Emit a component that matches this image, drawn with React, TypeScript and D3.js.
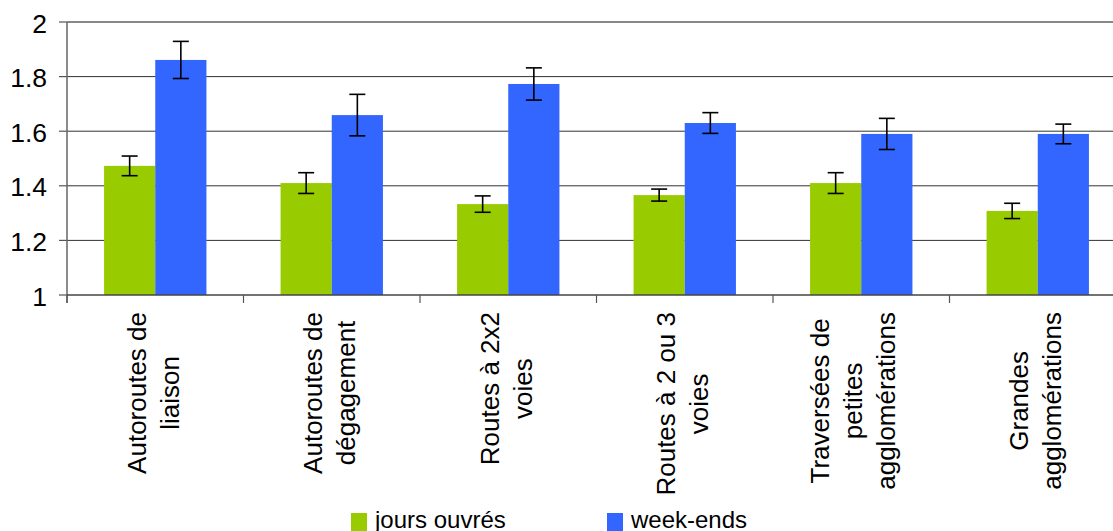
import * as d3 from 'd3'

const CATEGORIES = [
  ['Autoroutes de', 'liaison'],
  ['Autoroutes de', 'dégagement'],
  ['Routes à 2x2', 'voies'],
  ['Routes à 2 ou 3', 'voies'],
  ['Traversées de', 'petites', 'agglomérations'],
  ['Grandes', 'agglomérations'],
]

const SERIES = ['jours ouvrés', 'week-ends']
const JOURS_OUVRES = [1.473, 1.41, 1.333, 1.366, 1.41, 1.308]
const JOURS_OUVRES_ERR = [0.036, 0.038, 0.03, 0.022, 0.038, 0.028]
const WEEK_ENDS = [1.861, 1.659, 1.773, 1.63, 1.59, 1.59]
const WEEK_ENDS_ERR = [0.068, 0.076, 0.059, 0.038, 0.057, 0.036]
const Y_TICKS = [1, 1.2, 1.4, 1.6, 1.8, 2]

const COLORS = ['#99cc00', '#3366ff']
const WIDTH = 1113
const HEIGHT = 531
const PLOT = { left: 67, top: 22, bottom: 295, right: 1126 }
const FONT = '"Liberation Sans", Arial, sans-serif'
const LABEL_SIZE = 26

let measureCtx: CanvasRenderingContext2D | null = null
function textWidth(s: string) {
  if (!measureCtx) measureCtx = document.createElement('canvas').getContext('2d')
  if (!measureCtx) return s.length * LABEL_SIZE * 0.5
  measureCtx.font = `${LABEL_SIZE}px ${FONT}`
  return measureCtx.measureText(s).width
}

export default function App() {
  const idx = CATEGORIES.map((_, i) => String(i))
  const x = d3
    .scaleBand()
    .domain(idx)
    .range([PLOT.left, PLOT.right])
    .paddingInner(0.42)
    .paddingOuter(0.21)
  const step = x.step()
  const xs = d3.scaleBand().domain(SERIES).range([0, x.bandwidth()])
  const y = d3.scaleLinear().domain([1, 2]).range([PLOT.bottom, PLOT.top])

  const values = [JOURS_OUVRES, WEEK_ENDS]
  const errors = [JOURS_OUVRES_ERR, WEEK_ENDS_ERR]

  const bands = idx.map((_, i) => PLOT.left + i * step)

  return (
    <div style={{ position: 'fixed', left: 0, top: 0 }}>
      <svg width={WIDTH} height={HEIGHT} style={{ display: 'block', background: '#fff' }} fontFamily={FONT}>
        {/* gridlines */}
        {Y_TICKS.filter((t) => t > 1).map((t) => (
          <line
            key={t}
            x1={PLOT.left}
            x2={PLOT.right}
            y1={y(t)}
            y2={y(t)}
            stroke={t === 2 ? '#888' : '#333'}
            strokeWidth={t === 2 ? 2 : 1}
          />
        ))}
        {/* y ticks */}
        {Y_TICKS.map((t) => (
          <g key={t}>
            <line x1={PLOT.left - 8} x2={PLOT.left} y1={y(t)} y2={y(t)} stroke="#555" strokeWidth={1.2} />
            <text x={47} y={y(t)} dy="0.4em" textAnchor="end" fontSize={26.5} fill="#000">
              {d3.format('')(t)}
            </text>
          </g>
        ))}
        {/* bars */}
        {SERIES.map((s, si) =>
          values[si].map((v, i) => {
            const bx = (x(String(i)) ?? 0) + (xs(s) ?? 0)
            return (
              <rect
                key={s + i}
                x={bx}
                y={y(v)}
                width={xs.bandwidth()}
                height={y(1) - y(v)}
                fill={COLORS[si]}
              />
            )
          })
        )}
        {/* error bars */}
        {SERIES.map((s, si) =>
          values[si].map((v, i) => {
            const cx = (x(String(i)) ?? 0) + (xs(s) ?? 0) + xs.bandwidth() / 2
            const e = errors[si][i]
            return (
              <g key={'e' + s + i} stroke="#000" strokeWidth={1.6}>
                <line x1={cx} x2={cx} y1={y(v + e)} y2={y(v - e)} />
                <line x1={cx - 8} x2={cx + 8} y1={y(v + e)} y2={y(v + e)} />
                <line x1={cx - 8} x2={cx + 8} y1={y(v - e)} y2={y(v - e)} />
              </g>
            )
          })
        )}
        {/* axes */}
        <line x1={PLOT.left} x2={PLOT.left} y1={PLOT.top} y2={PLOT.bottom + 8} stroke="#666" strokeWidth={1.5} />
        <line x1={PLOT.left} x2={PLOT.right} y1={PLOT.bottom} y2={PLOT.bottom} stroke="#444" strokeWidth={1.5} />
        {bands.map((bx, i) => (
          <line key={'t' + i} x1={bx} x2={bx} y1={PLOT.bottom} y2={PLOT.bottom + 8} stroke="#555" strokeWidth={1.2} />
        ))}
        {/* category labels */}
        {CATEGORIES.map((lines, i) => {
          const center = bands[i] + step / 2
          const maxW = d3.max(lines, (l) => textWidth(l)) ?? 0
          const cy = 312 + maxW / 2
          const n = lines.length
          return lines.map((l, j) => {
            const bx = center + (j - (n - 1) / 2) * 33 + (n === 2 ? 7 : 1)
            return (
              <text
                key={'c' + i + j}
                transform={`translate(${bx},${cy}) rotate(-90)`}
                textAnchor="middle"
                fontSize={LABEL_SIZE}
                fill="#000"
              >
                {l}
              </text>
            )
          })
        })}
        {/* legend */}
        {SERIES.map((s, si) => {
          const lx = [351, 607][si]
          return (
            <g key={'l' + s}>
              <rect x={lx} y={513} width={16} height={18} fill={COLORS[si]} />
              <text x={lx + 24} y={528} fontSize={24} fill="#000">
                {s}
              </text>
            </g>
          )
        })}
      </svg>
    </div>
  )
}
